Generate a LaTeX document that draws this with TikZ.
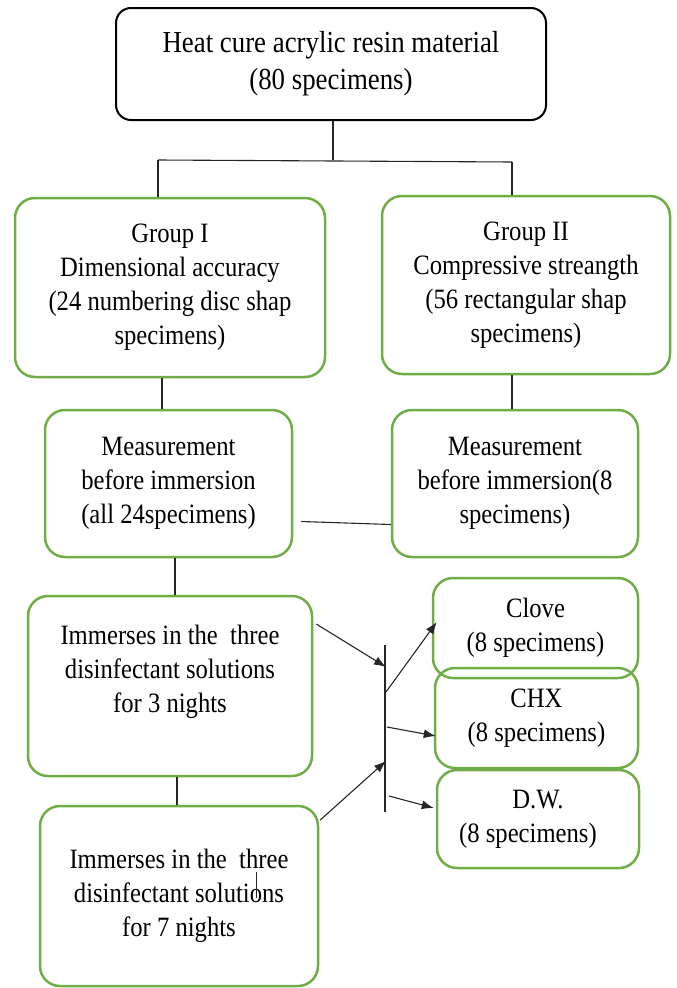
\documentclass[tikz,border=0pt]{standalone}
\usepackage{fontspec}
\setmainfont{Liberation Serif}[FakeStretch=0.88]
\usetikzlibrary{arrows.meta}
\definecolor{boxgreen}{HTML}{70AD47}

\begin{document}
\begin{tikzpicture}[x=1pt, y=-1pt,
  gbox/.style={draw=boxgreen, line width=2.5pt, rounded corners=20pt, align=center,
    inner sep=0pt, font=\fontsize{28}{34}\selectfont},
  bbox/.style={draw=black, line width=2pt, rounded corners=15pt, align=center,
    inner sep=0pt, font=\fontsize{30.5}{37}\selectfont},
  conn/.style={draw=black!85, line width=1.1pt},
  arr/.style={conn, -{Latex[length=12pt, width=9pt]}}]

  \useasboundingbox (0,0) rectangle (677,988);

  % Starting material
  \node (top) at (331,64) [bbox, minimum width=430pt, minimum height=112pt]
    {Heat cure acrylic resin material\\(80 specimens)};

  % Group I and Group II
  \node (grpI) at (170,287.5) [gbox, minimum width=310pt, minimum height=179pt]
    {Group I\\Dimensional accuracy\\(24 numbering disc shap\\specimens)};
  \node (grpII) at (526,285) [gbox, minimum width=288pt, minimum height=178pt]
    {Group II\\Compressive streangth\\(56 rectangular shap\\specimens)};

  % Measurements before immersion
  \node (measI) at (168.5,483.5) [gbox, minimum width=247pt, minimum height=147pt]
    {Measurement\\before immersion\\(all 24specimens)};
  \node (measII) at (515,483.5) [gbox, minimum width=246pt, minimum height=147pt]
    {Measurement\\before immersion(8\\specimens)};

  % Immersion periods
  \node (immA) at (170,686) [gbox, minimum width=284pt, minimum height=180pt]
    {Immerses in the~~three\\disinfectant solutions\\for 3 nights\\~};
  \node (immB) at (179,896) [gbox, minimum width=278pt, minimum height=180pt]
    {Immerses in the~~three\\disinfectant solutions\\for 7 nights};

  % Disinfectant solutions
  \node (chx) at (536.5,718) [gbox, minimum width=203pt, minimum height=100pt]
    {CHX\\(8 specimens)};
  \node (clove) at (535.5,628) [gbox, minimum width=205pt, minimum height=100pt]
    {Clove\\(8 specimens)};
  \node (dw) at (538,819) [gbox, minimum width=202pt, minimum height=98pt]
    {D.W.\\(8 specimens)\hspace*{20pt}};

  % Split into the two groups
  \coordinate (jL) at (158,160);
  \coordinate (jR) at (512,162);
  \draw[conn] ([xshift=2pt]top.south) -- ([xshift=2pt]top.south |- jL);
  \draw[conn] (jL) -- (jR);
  \draw[conn] (jL) -- (jL |- grpI.north);
  \draw[conn] (jR) -- (jR |- grpII.north);

  % Vertical links
  \draw[conn] ([xshift=-8pt]grpI.south) -- ([xshift=-6.5pt]measI.north);
  \draw[conn] ([xshift=-14pt]grpII.south) -- ([xshift=-3pt]measII.north);
  \draw[conn] ([xshift=8pt,yshift=-38pt]measI.east) -- ([yshift=-41pt]measII.west);
  \draw[conn] ([xshift=6.5pt]measI.south) -- ([xshift=5pt]immA.north);
  \draw[conn] ([xshift=7pt]immA.south) -- ([xshift=-2pt]immB.north);

  % Collecting bar
  \coordinate (barT) at (385,645);
  \coordinate (barB) at (385,812);
  \coordinate (inA) at (386,667);
  \coordinate (inB) at (386,761);
  \coordinate (outA) at (386,692);
  \coordinate (outB) at (387,727);
  \coordinate (outC) at (389,796);
  \draw[conn] (barT) -- (barB);

  % Arrows into and out of the bar
  \draw[arr] ([xshift=3pt,yshift=62pt]immA.east) -- (inA);
  \draw[arr] ([xshift=1pt,yshift=76pt]immB.east) -- (inB);
  \draw[arr] (outA) -- ([xshift=5pt,yshift=6pt]clove.west);
  \draw[arr] (outB) -- ([xshift=2pt,yshift=-18pt]chx.west);
  \draw[arr] (outC) -- ([xshift=-2pt,yshift=11pt]dw.west);

  % small stray tick
  \coordinate (tickT) at (256,872);
  \coordinate (tickB) at (256,898);
  \draw[conn, line width=0.6pt] (tickT) -- (tickB);

\end{tikzpicture}
\end{document}
